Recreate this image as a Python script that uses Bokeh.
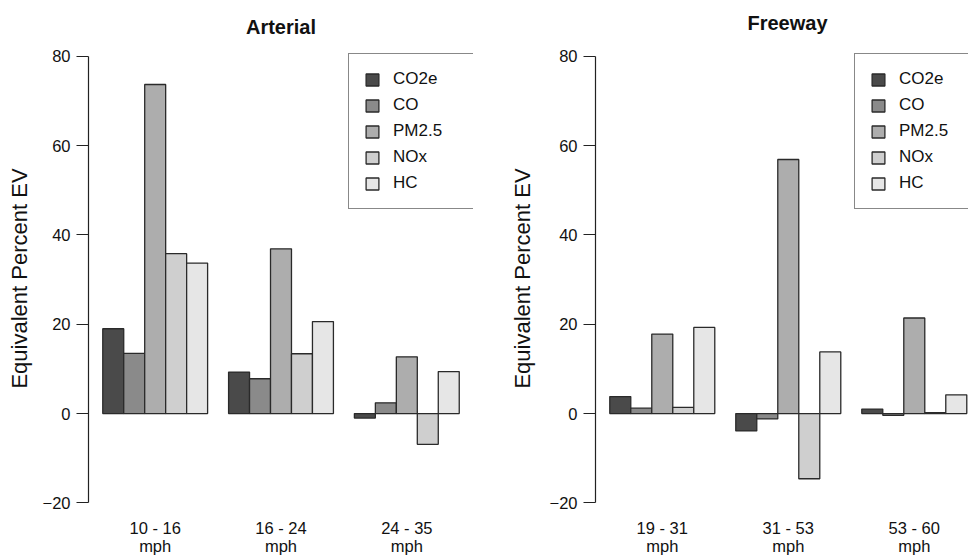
from bokeh.plotting import figure
from bokeh.layouts import row
from bokeh.models import Range1d, FixedTicker, Legend, LegendItem
from bokeh.embed import file_html
from bokeh.resources import INLINE

# ---- data ----
series = ["CO2e", "CO", "PM2.5", "NOx", "HC"]
colors = ["#4a4a4a", "#8a8a8a", "#adadad", "#cfcfcf", "#e6e6e6"]

arterial_groups = ["10 - 16\nmph", "16 - 24\nmph", "24 - 35\nmph"]
arterial_co2e = [19.0, 9.3, -1.0]
arterial_co = [13.5, 7.8, 2.4]
arterial_pm25 = [73.7, 36.9, 12.7]
arterial_nox = [35.8, 13.4, -6.9]
arterial_hc = [33.7, 20.6, 9.4]

freeway_groups = ["19 - 31\nmph", "31 - 53\nmph", "53 - 60\nmph"]
freeway_co2e = [3.8, -3.9, 1.0]
freeway_co = [1.2, -1.2, -0.4]
freeway_pm25 = [17.8, 56.9, 21.4]
freeway_nox = [1.4, -14.6, 0.2]
freeway_hc = [19.3, 13.8, 4.2]

y_ticks = [-20, 0, 20, 40, 60, 80]

FONT = "Liberation Sans"
BOTTOM = 40
Y_MIN = 84 - (558 - BOTTOM - 38) / 4.465


def make_panel(title, groups, values, width, border_left, border_right, x_end,
               legend_x, title_standoff, title_align, title_offset, ylabel_standoff):
    p = figure(width=width, height=558, output_backend="svg", toolbar_location=None,
               x_range=Range1d(0.32, x_end), y_range=Range1d(Y_MIN, 84),
               min_border_left=border_left, min_border_right=border_right,
               min_border_top=38, min_border_bottom=BOTTOM, title=title)
    p.outline_line_color = None
    p.grid.visible = False
    p.background_fill_color = "white"
    p.border_fill_color = "white"

    n = len(series)
    items = []
    for i, (name, vals, col) in enumerate(zip(series, values, colors)):
        xs = [1.5 + (n + 1) * g + i for g in range(len(groups))]
        r = p.vbar(x=xs, top=vals, bottom=0, width=1.0, fill_color=col,
                   line_color="#2a2a2a", line_width=1.3)
        items.append(LegendItem(label=name, renderers=[r]))

    # title
    p.title.text_font = FONT
    p.title.text_font_size = "20px"
    p.title.text_font_style = "bold"
    p.title.align = title_align
    p.title.text_color = "#111111"
    p.title.standoff = title_standoff
    p.title.offset = title_offset

    # y axis
    ya = p.yaxis[0]
    ya.ticker = FixedTicker(ticks=y_ticks)
    ya.bounds = (-20, 80)
    ya.major_tick_out = 12
    ya.major_tick_in = 0
    ya.minor_tick_out = 0
    ya.minor_tick_in = 0
    ya.axis_line_color = "#222222"
    ya.major_tick_line_color = "#222222"
    ya.axis_line_width = 1.2
    ya.major_tick_line_width = 1.2
    ya.major_label_text_font = FONT
    ya.major_label_text_font_size = "16.5px"
    ya.major_label_text_color = "#111111"
    ya.major_label_standoff = 6
    ya.axis_label = "Equivalent Percent EV"
    ya.axis_label_text_font = FONT
    ya.axis_label_text_font_size = "22px"
    ya.axis_label_text_font_style = "normal"
    ya.axis_label_text_color = "#111111"
    ya.axis_label_standoff = ylabel_standoff

    # x axis (labels only)
    xa = p.xaxis[0]
    centers = [1 + (n + 1) * g + (n - 1) / 2 + 0.5 for g in range(len(groups))]
    xa.ticker = FixedTicker(ticks=centers)
    xa.major_label_overrides = {c: lab for c, lab in zip(centers, groups)}
    xa.axis_line_color = None
    xa.major_tick_line_color = None
    xa.minor_tick_line_color = None
    xa.major_tick_out = 0
    xa.major_tick_in = 0
    xa.minor_tick_out = 0
    xa.minor_tick_in = 0
    xa.major_label_text_font = FONT
    xa.major_label_text_font_size = "16.5px"
    xa.major_label_text_line_height = 1.05
    xa.major_label_text_color = "#111111"
    xa.major_label_standoff = 0

    frame_bottom = 558 - BOTTOM
    leg = Legend(items=items, location=(legend_x, frame_bottom - 209))
    leg.border_line_color = "#111111"
    leg.border_line_width = 1.3
    leg.padding = 15
    leg.spacing = 6
    leg.glyph_width = 16
    leg.glyph_height = 15
    leg.label_height = 19
    leg.label_width = 66
    leg.label_standoff = 13
    leg.label_text_font = FONT
    leg.label_text_font_size = "17px"
    leg.label_text_color = "#111111"
    leg.background_fill_alpha = 1.0
    p.add_layout(leg)
    return p


left = make_panel("Arterial", arterial_groups,
                  [arterial_co2e, arterial_co, arterial_pm25, arterial_nox, arterial_hc],
                  484, 88, 11, 18.68, 260, 1, "center", 0, 8)
right = make_panel("Freeway", freeway_groups,
                   [freeway_co2e, freeway_co, freeway_pm25, freeway_nox, freeway_hc],
                   484, 111, 0, 0.32 + 373 / 21.0, 259, 9, "left", 152, 12)

layout = row(left, right)
open("out.html", "w").write(file_html(layout, INLINE))
